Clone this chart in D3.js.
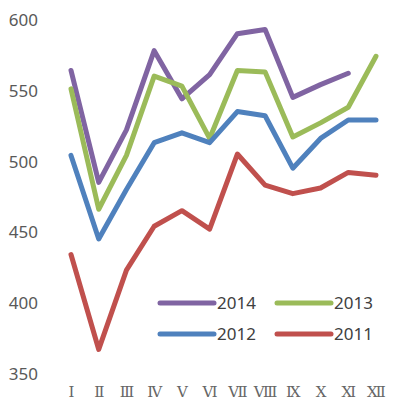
<!DOCTYPE html>
<html>
<head>
<meta charset="utf-8">
<script src="https://cdn.jsdelivr.net/npm/d3@7"></script>
<style>
  body { margin: 0; background: #fff; }
  svg { display: block; }
  .tick-label { font-family: 'Noto Sans', sans-serif; font-size: 17px; fill: #595959; }
  .month-label { font-family: 'DejaVu Serif', serif; font-size: 15px; fill: #666; }
  .legend-label { font-family: 'Noto Sans', sans-serif; font-size: 17px; fill: #404040; }
</style>
</head>
<body>
<div id="chart"></div>
<script>
// Chart data
const months = ['Ⅰ', 'Ⅱ', 'Ⅲ', 'Ⅳ', 'Ⅴ', 'Ⅵ', 'Ⅶ', 'Ⅷ', 'Ⅸ', 'Ⅹ', 'Ⅺ', 'Ⅻ'];
const yTicks = [350, 400, 450, 500, 550, 600];
const seriesNames = ['2014', '2013', '2012', '2011'];
const values2014 = [564, 485, 522, 578, 544, 561, 590, 593, 545, 554, 562, null];
const values2013 = [551, 466, 504, 560, 553, 516, 564, 563, 517, 527, 538, 574];
const values2012 = [504, 445, 480, 513, 520, 513, 535, 532, 495, 516, 529, 529];
const values2011 = [434, 367, 423, 454, 465, 452, 505, 483, 477, 481, 492, 490];
const colors = ['#8064A2', '#9BBB59', '#4F81BD', '#C0504D'];

const width = 402;
const height = 401;
const margin = { left: 71, right: 26, top: 19.5, bottom: 27.5 };

const series = seriesNames.map((name, i) => ({
  name,
  color: colors[i],
  values: [values2014, values2013, values2012, values2011][i],
}));

const svg = d3.select('#chart')
  .append('svg')
  .attr('width', width)
  .attr('height', height);

// Scales
const xScale = d3.scalePoint().domain(months).range([margin.left, width - margin.right]);
const yScale = d3.scaleLinear().domain([350, 600]).range([height - margin.bottom, margin.top]);

// Y axis labels (no axis line)
const yAxis = d3.axisLeft(yScale).tickValues(yTicks).tickSize(0).tickPadding(0);
const yAxisG = svg.append('g')
  .attr('transform', 'translate(38,0)')
  .call(yAxis);
yAxisG.select('.domain').remove();
yAxisG.selectAll('text')
  .attr('class', 'tick-label')
  .attr('fill', null)
  .attr('dy', '0.35em');
yAxisG.attr('font-family', null).attr('font-size', null);

// X axis labels
const xAxis = d3.axisBottom(xScale).tickSize(0).tickPadding(0);
const xAxisG = svg.append('g')
  .attr('transform', 'translate(0,397)')
  .call(xAxis);
xAxisG.select('.domain').remove();
xAxisG.selectAll('text')
  .attr('class', 'month-label')
  .attr('fill', null)
  .attr('dy', null)
  .attr('y', 0);
xAxisG.attr('font-family', null).attr('font-size', null);

// Lines
const line = d3.line()
  .defined(d => d != null)
  .x((d, i) => xScale(months[i]))
  .y(d => yScale(d));

svg.append('g')
  .selectAll('path')
  .data(series)
  .join('path')
  .attr('d', d => line(d.values))
  .attr('fill', 'none')
  .attr('stroke', d => d.color)
  .attr('stroke-width', 5)
  .attr('stroke-linejoin', 'round')
  .attr('stroke-linecap', 'round');

// Legend
const legendPos = [
  { x: 160, y: 303 },
  { x: 277, y: 303 },
  { x: 160, y: 334 },
  { x: 277, y: 334 },
];
const legend = svg.append('g')
  .selectAll('g')
  .data(series)
  .join('g')
  .attr('transform', (d, i) => `translate(${legendPos[i].x},${legendPos[i].y})`);

legend.append('line')
  .attr('x1', 0)
  .attr('x2', 54)
  .attr('stroke', d => d.color)
  .attr('stroke-width', 5)
  .attr('stroke-linecap', 'round');

legend.append('text')
  .attr('class', 'legend-label')
  .attr('x', 57)
  .attr('dy', '0.35em')
  .text(d => d.name);
</script>
</body>
</html>
